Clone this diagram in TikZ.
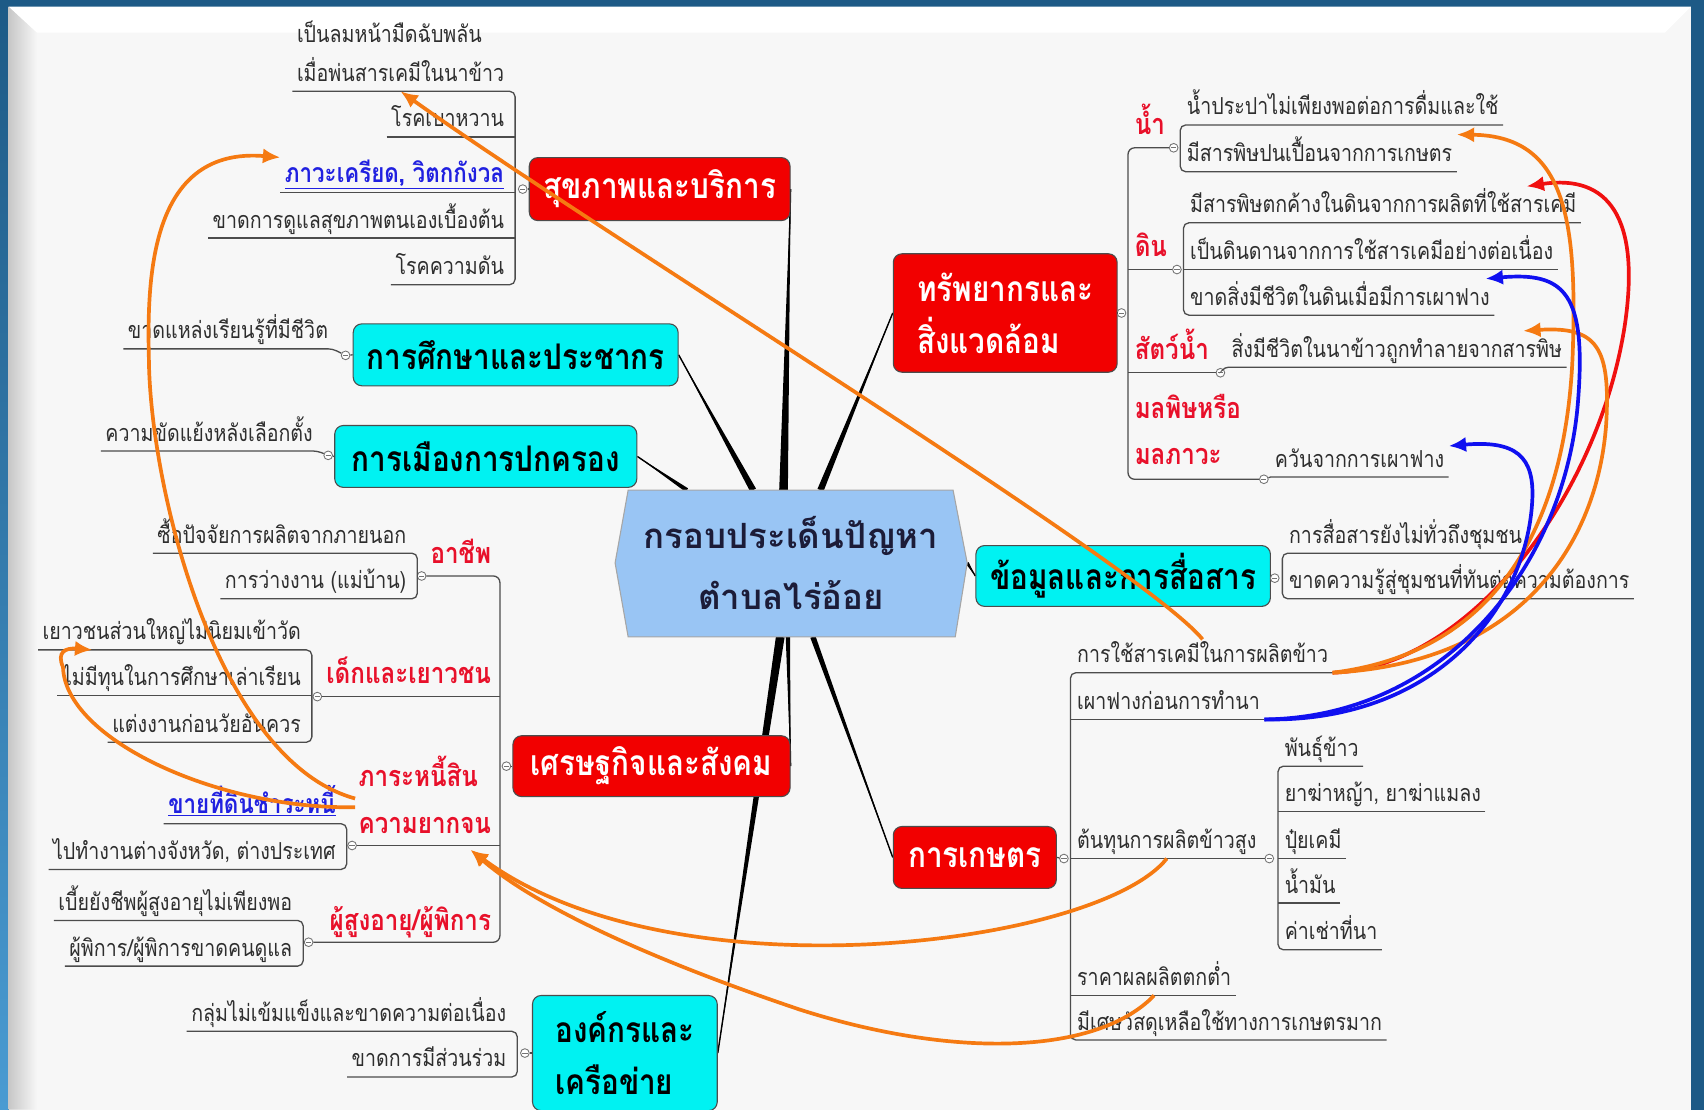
\documentclass[tikz,border=0pt]{standalone}
\usepackage{fontspec}
\setmainfont[Script=Thai]{Loma}
\newfontfamily\thaicond[Script=Thai,FakeStretch=0.84]{Loma}
\usetikzlibrary{arrows.meta,positioning,calc,backgrounds}
\definecolor{frame}{HTML}{1D5A86}
\definecolor{framelight}{HTML}{4A9BD2}
\definecolor{panel}{HTML}{F7F7F7}
\definecolor{hubfill}{HTML}{99C5F4}
\definecolor{hubtext}{HTML}{1C1C38}
\definecolor{boxred}{HTML}{F20000}
\definecolor{boxcyan}{HTML}{00F2F2}
\definecolor{catred}{HTML}{E8102A}
\definecolor{linkblue}{HTML}{2020E0}
\definecolor{leafgray}{HTML}{2E2E2E}
\definecolor{aorange}{HTML}{F57A12}
\definecolor{ared}{HTML}{F01010}
\definecolor{ablue}{HTML}{1010F0}

\begin{document}
\begin{tikzpicture}
[x=1pt,y=-1pt,
topic/.style={rounded corners=8pt,draw=black!70,line width=1pt,inner sep=0pt,align=left,
  font=\thaicond\bfseries\fontsize{32.5}{48}\selectfont},
redtopic/.style={topic,fill=boxred,text=white},
cyantopic/.style={topic,fill=boxcyan,text=black},
leaf/.style={font=\thaicond\fontsize{21.5}{36}\selectfont,text=leafgray,inner xsep=4pt,inner ysep=2pt,text depth=7pt},
linkleaf/.style={leaf,text=linkblue,font=\thaicond\bfseries\fontsize{24.5}{36}\selectfont},
catlabel/.style={font=\thaicond\bfseries\fontsize{26.5}{43}\selectfont,text=catred,inner xsep=3pt,inner ysep=2pt,text depth=7pt,align=left},
uline/.style={draw=black!70,line width=1.2pt},
knob/.style={circle,draw=black!55,fill=white,line width=0.8pt,minimum size=8pt,inner sep=0pt,
  path picture={\draw[black!55,line width=0.6pt] ([xshift=1.6pt]path picture bounding box.west) -- ([xshift=-1.6pt]path picture bounding box.east);}},
oarr/.style={draw=aorange,line width=3.4pt,-{Latex[length=16pt,width=14pt]}},
rarr/.style={oarr,draw=ared},
barr/.style={oarr,draw=ablue}]
%%%%%%%%%%
\newcommand{\spoke}[3]{
  \fill ($(#1)!#3!90:(#2)$) -- (#2) -- ($(#1)!#3!-90:(#2)$) -- cycle;
  \draw[line width=1.3pt] (#1) -- (#2);
}
\newcommand{\bracketL}[2]{\draw[uline,rounded corners=5pt] (#1.south west) -- ([xshift=6pt]#1.south east) -- ([xshift=6pt]#2.south east) -- (#2.south west);}
\newcommand{\stubL}[1]{\draw[uline] (#1.south west) -- ([xshift=6pt]#1.south east);}
\newcommand{\bracketR}[2]{\draw[uline,rounded corners=5pt] (#1.south east) -- ([xshift=-2pt]#1.south west) -- ([xshift=-2pt]#2.south west) -- (#2.south east);}
\newcommand{\stubR}[1]{\draw[uline] (#1.south east) -- ([xshift=-2pt]#1.south west);}
%%%%%%%%%%

\useasboundingbox (0,0) rectangle (1568,1021);
\clip (0,0) rectangle (1568,1021);

%% main topics
\node[redtopic,minimum width=240,minimum height=58] (health) at (607,174) {สุขภาพและบริการ};
\node[cyantopic,minimum width=299,minimum height=57] (edu) at (474.5,326.5) {การศึกษาและประชากร};
\node[cyantopic,minimum width=278,minimum height=57] (pol) at (447,420) {การเมืองการปกครอง};
\node[redtopic,minimum width=206,minimum height=109] (res) at (925,288) {ทรัพยากรและ\\สิ่งแวดล้อม};
\node[cyantopic,minimum width=271,minimum height=56] (info) at (1033.5,530) {ข้อมูลและการสื่อสาร};
\node[redtopic,minimum width=255,minimum height=56] (econ) at (599.5,705) {เศรษฐกิจและสังคม};
\node[redtopic,minimum width=150,minimum height=57] (agri) at (897,789) {การเกษตร};
\node[cyantopic,minimum width=170,minimum height=106] (org) at (575,969) {องค์กรและ\\เครือข่าย};

\coordinate (hubc) at (728,518);
\node[font=\bfseries\fontsize{32}{56}\selectfont,text=hubtext,align=center] (hub) at (hubc) {กรอบประเด็นปัญหา\\ตำบลไร่อ้อย};

%% panel, spokes and hub shape behind
\begin{scope}[on background layer]
\fill[frame] (0,0) rectangle (1568,1021);
\shade[top color=frame,bottom color=framelight] (0,0) rectangle (8,1021);
\fill[panel] (8,6) rectangle (1556,1021);
\shade[left color=black!22,right color=panel] (8,6) -- (34,30) -- (34,1021) -- (8,1021) -- cycle;
\fill[white] (8,6) -- (1556,6) -- (1532,30) -- (34,30) -- cycle;
\coordinate (rhealth) at ($(hubc)+(-7,-67)$);
\coordinate (redu) at ($(hubc)+(-35,-67)$);
\coordinate (rpol) at ($(hubc)+(-96,-67)$);
\coordinate (rres) at ($(hubc)+(27,-67)$);
\coordinate (rinfo) at ($(hubc)+(162,0)$);
\coordinate (recon) at ($(hubc)+(-3,68)$);
\coordinate (rorg) at ($(hubc)+(-10,68)$);
\coordinate (ragri) at ($(hubc)+(20,68)$);
\spoke{rhealth}{health.east}{4pt}
\spoke{redu}{edu.east}{3pt}
\spoke{rpol}{pol.east}{2pt}
\spoke{rres}{res.west}{3pt}
\spoke{rinfo}{info.west}{1.5pt}
\spoke{recon}{econ.east}{2pt}
\spoke{rorg}{org.east}{4pt}
\spoke{ragri}{agri.west}{2.5pt}
\filldraw[fill=hubfill,draw=black!35,line width=1pt] ($(hubc)+(-150,-67)$) -- ($(hubc)+(149,-67)$) -- ($(hubc)+(162,0)$)
  -- ($(hubc)+(151,68)$) -- ($(hubc)+(-150,68)$) -- ($(hubc)+(-162,0)$) -- cycle;
\end{scope}

%% health
\node[leaf,anchor=south east,align=left] (faint) at (468,84) {เป็นลมหน้ามืดฉับพลัน\\เมื่อพ่นสารเคมีในนาข้าว};
\node[leaf,anchor=south east] (diabetes) at (468,126) {โรคเบาหวาน};
\node[linkleaf,anchor=south east] (stress) at (468,177) {\underline{ภาวะเครียด, วิตกกังวล}};
\node[leaf,anchor=south east] (selfcare) at (468,219) {ขาดการดูแลสุขภาพตนเองเบื้องต้น};
\node[leaf,anchor=south east] (pressure) at (468,262) {โรคความดัน};
\bracketL{faint}{pressure}
\foreach \n in {diabetes,stress,selfcare} {\stubL{\n}}
\node[knob] (khealth) at (481,174) {};
\draw[uline] (khealth) -- (health.west);

%% education
\node[leaf,anchor=south east] (nolearn) at (306,321) {ขาดแหล่งเรียนรู้ที่มีชีวิต};
\node[knob] (kedu) at (318,327) {};
\draw[uline,rounded corners=4pt] (nolearn.south west) -- (nolearn.south east) -- (kedu);
\draw[uline] (kedu) -- (edu.west);

%% politics
\node[leaf,anchor=south east] (conflict) at (292,415) {ความขัดแย้งหลังเลือกตั้ง};
\node[knob] (kpol) at (302,419) {};
\draw[uline,rounded corners=4pt] (conflict.south west) -- (conflict.south east) -- (kpol);
\draw[uline] (kpol) -- (pol.west);

%% economy
\coordinate (econspine) at (460,705);
\node[catlabel,anchor=south east] (catjob) at (455,528) {อาชีพ};
\node[catlabel,anchor=south east] (catyouth) at (455,638) {เด็กและเยาวชน};
\node[catlabel,anchor=south east] (catdebt) at (455,776) {ภาระหนี้สิน\\ความยากจน};
\node[catlabel,anchor=south east] (catold) at (455,865) {ผู้สูงอายุ/ผู้พิการ};
\node[knob] (kjob) at (388,530) {};
\node[knob] (kyouth) at (292,641) {};
\node[knob] (kdebt) at (324,778) {};
\node[knob] (kold) at (284,867) {};
\node[knob] (kecon) at (466,705) {};
\draw[uline,rounded corners=6pt] (kjob) -- (kjob -| econspine) -- (kold -| econspine) -- (kold);
\draw[uline] (kyouth) -- (kyouth -| econspine);
\draw[uline] (kdebt) -- (kdebt -| econspine);
\draw[uline] (kecon) -- (econ.west);
\node[leaf,anchor=south east] (buyin) at (378,509) {ซื้อปัจจัยการผลิตจากภายนอก};
\node[leaf,anchor=south east] (jobless) at (378,551) {การว่างงาน (แม่บ้าน)};
\bracketL{buyin}{jobless}
\node[leaf,anchor=south east] (temple) at (281,598) {เยาวชนส่วนใหญ่ไม่นิยมเข้าวัด};
\node[leaf,anchor=south east] (fund) at (281,640) {ไม่มีทุนในการศึกษาเล่าเรียน};
\node[leaf,anchor=south east] (marry) at (281,683) {แต่งงานก่อนวัยอันควร};
\bracketL{temple}{marry}
\stubL{fund}
\node[linkleaf,anchor=south east] (sellland) at (313,758) {\underline{ขายที่ดินชำระหนี้}};
\node[leaf,anchor=south east] (migrate) at (313,800) {ไปทำงานต่างจังหวัด, ต่างประเทศ};
\bracketL{sellland}{migrate}
\node[leaf,anchor=south east] (allowance) at (273,847) {เบี้ยยังชีพผู้สูงอายุไม่เพียงพอ};
\node[leaf,anchor=south east] (carer) at (273,889) {ผู้พิการ/ผู้พิการขาดคนดูแล};
\bracketL{allowance}{carer}

%% organisation
\node[leaf,anchor=south east] (weakgrp) at (470,949) {กลุ่มไม่เข้มแข็งและขาดความต่อเนื่อง};
\node[leaf,anchor=south east] (particip) at (470,991) {ขาดการมีส่วนร่วม};
\bracketL{weakgrp}{particip}
\node[knob] (korg) at (483,969) {};
\draw[uline] (korg) -- (org.west);

%% resources
\coordinate (resspine) at (1038,288);
\node[knob] (kres) at (1032,288) {};
\draw[uline] (res.east) -- (kres);
\node[catlabel,anchor=south west] (catwater) at (1041,133) {น้ำ};
\node[catlabel,anchor=south west] (catsoil) at (1041,245) {ดิน};
\node[catlabel,anchor=south west] (cataqua) at (1041,340) {สัตว์น้ำ};
\node[catlabel,anchor=south west] (catpoll) at (1041,437) {มลพิษหรือ\\มลภาวะ};
\node[knob] (kwater) at (1080,136) {};
\node[knob] (ksoil) at (1083,248) {};
\node[knob] (kaqua) at (1123,343) {};
\node[knob] (kpoll) at (1163,441) {};
\draw[uline,rounded corners=6pt] (kwater) -- (kwater -| resspine) -- (kpoll -| resspine) -- (kpoll);
\draw[uline] (ksoil) -- (ksoil -| resspine);
\draw[uline] (kaqua) -- (kaqua -| resspine);
\node[leaf,anchor=south west] (tapwater) at (1088,115) {น้ำประปาไม่เพียงพอต่อการดื่มและใช้};
\node[leaf,anchor=south west] (waterpoison) at (1088,158) {มีสารพิษปนเปื้อนจากการเกษตร};
\bracketR{tapwater}{waterpoison}
\node[leaf,anchor=south west] (soilpoison) at (1091,205) {มีสารพิษตกค้างในดินจากการผลิตที่ใช้สารเคมี};
\node[leaf,anchor=south west] (hardsoil) at (1091,248) {เป็นดินดานจากการใช้สารเคมีอย่างต่อเนื่อง};
\node[leaf,anchor=south west] (soillife) at (1091,290) {ขาดสิ่งมีชีวิตในดินเมื่อมีการเผาฟาง};
\bracketR{soilpoison}{soillife}
\stubR{hardsoil}
\node[leaf,anchor=south west] (aquatic) at (1129,338) {สิ่งมีชีวิตในนาข้าวถูกทำลายจากสารพิษ};
\draw[uline,rounded corners=3pt] (kaqua) -- ([xshift=-2pt]aquatic.south west) -- (aquatic.south east);
\node[leaf,anchor=south west] (smoke) at (1169,439) {ควันจากการเผาฟาง};
\draw[uline] (kpoll) -- (smoke.south west) -- (smoke.south east);

%% information
\node[knob] (kinfo) at (1173,532) {};
\draw[uline] (info.east) -- (kinfo);
\node[leaf,anchor=south west] (reach) at (1182,509) {การสื่อสารยังไม่ทั่วถึงชุมชน};
\node[leaf,anchor=south west] (knowhow) at (1182,551) {ขาดความรู้สู่ชุมชนที่ทันต่อความต้องการ};
\bracketR{reach}{knowhow}

%% agriculture
\node[knob] (kagri) at (979,790) {};
\draw[uline] (agri.east) -- (kagri);
\node[leaf,anchor=south west] (chem) at (987,619) {การใช้สารเคมีในการผลิตข้าว};
\node[leaf,anchor=south west] (burn) at (987,662) {เผาฟางก่อนการทำนา};
\node[leaf,anchor=south west] (cost) at (987,790) {ต้นทุนการผลิตข้าวสูง};
\node[leaf,anchor=south west] (price) at (987,916) {ราคาผลผลิตตกต่ำ};
\node[leaf,anchor=south west] (waste) at (987,957) {มีเศษวัสดุเหลือใช้ทางการเกษตรมาก};
\bracketR{chem}{waste}
\foreach \n in {burn,cost,price} {\stubR{\n}}
\node[knob] (kcost) at (1168,790) {};
\draw[uline] (cost.south east) -- (kcost);
\node[leaf,anchor=south west] (seed) at (1178,705) {พันธุ์ข้าว};
\node[leaf,anchor=south west] (herbicide) at (1178,747) {ยาฆ่าหญ้า, ยาฆ่าแมลง};
\node[leaf,anchor=south west] (fert) at (1178,790) {ปุ๋ยเคมี};
\node[leaf,anchor=south west] (fuel) at (1178,831) {น้ำมัน};
\node[leaf,anchor=south west] (rent) at (1178,874) {ค่าเช่าที่นา};
\bracketR{seed}{rent}
\foreach \n in {herbicide,fert,fuel} {\stubR{\n}}

%% cause and effect arrows
\draw[oarr] (chem.north) .. controls (1050,520) and (560,220) .. (faint.south);
\draw[oarr] (catdebt.west) .. controls (200,700) and (138,450) .. (137,330)
  .. controls (135,250) and (140,135) .. (stress.north west);
\draw[oarr] ([yshift=-8pt]catdebt.west) .. controls (200,745) and (60,680) .. (58,614)
  .. controls (52,600) and (60,596) .. ([xshift=50pt]temple.south west);
\draw[oarr] (cost.south) .. controls (1010,870) and (620,920) .. ([xshift=-22pt,yshift=-6pt]catdebt.south east);
\draw[oarr] (price.south) .. controls (1010,970) and (880,975) .. (736,929)
  .. controls (620,890) and (500,840) .. ([xshift=-22pt,yshift=-6pt]catdebt.south east);
\draw[rarr] (chem.south east) .. controls (1350,615) and (1470,460) .. (1495,300)
  .. controls (1510,200) and (1480,160) .. ([xshift=-50pt]soilpoison.north east);
\draw[oarr] (chem.south east) .. controls (1380,600) and (1440,480) .. (1447,330)
  .. controls (1452,200) and (1440,125) .. (waterpoison.north east);
\draw[oarr] (chem.south east) .. controls (1400,610) and (1470,500) .. (1478,390)
  .. controls (1482,320) and (1470,300) .. ([xshift=-40pt]aquatic.north east);
\draw[barr] (burn.south east) .. controls (1330,660) and (1440,520) .. (1452,370)
  .. controls (1460,270) and (1440,250) .. ([xshift=-8pt]soillife.north east);
\draw[barr] (burn.south east) .. controls (1320,665) and (1405,560) .. (1410,460)
  .. controls (1412,420) and (1395,405) .. (smoke.north east);
\end{tikzpicture}
\end{document}
